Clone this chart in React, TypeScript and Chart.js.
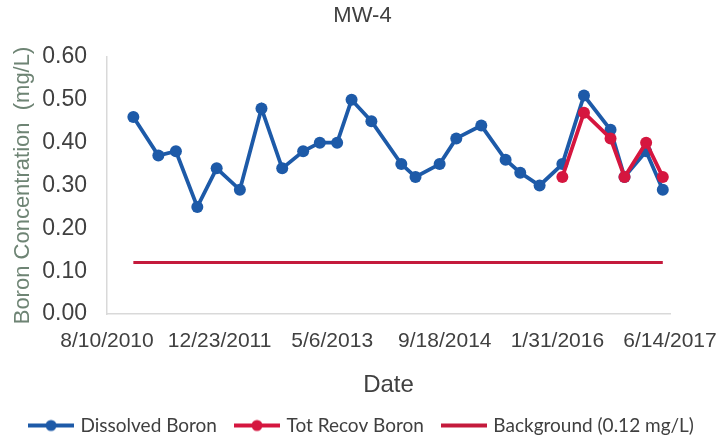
import { useEffect, useRef } from "react";
import { Chart, registerables } from "chart.js";

Chart.register(...registerables);

// ---- data ----
const axisStartDate = "2010-08-10";
const xTickLabels = ["8/10/2010", "12/23/2011", "5/6/2013", "9/18/2014", "1/31/2016", "6/14/2017"];
const xTickStepDays = 500;
const yTickValues = [0, 0.1, 0.2, 0.3, 0.4, 0.5, 0.6];

const dissolvedDates = [
  "2010-12-05", "2011-03-26", "2011-06-12", "2011-09-15", "2011-12-10", "2012-03-22",
  "2012-06-26", "2012-09-26", "2012-12-28", "2013-03-12", "2013-05-28", "2013-07-31",
  "2013-10-27", "2014-03-09", "2014-05-11", "2014-08-26", "2014-11-08", "2015-02-27",
  "2015-06-15", "2015-08-19", "2015-11-13", "2016-02-22", "2016-05-28", "2016-09-23",
  "2016-11-24", "2017-02-28", "2017-05-13",
];
const dissolvedValues = [
  0.46, 0.37, 0.38, 0.25, 0.34, 0.29,
  0.48, 0.34, 0.38, 0.40, 0.40, 0.50,
  0.45, 0.35, 0.32, 0.35, 0.41, 0.44,
  0.36, 0.33, 0.30, 0.35, 0.51, 0.43,
  0.32, 0.38, 0.29,
];

const totRecovDates = ["2016-02-22", "2016-05-28", "2016-09-23", "2016-11-24", "2017-02-28", "2017-05-13"];
const totRecovValues = [0.32, 0.47, 0.41, 0.32, 0.40, 0.32];

const backgroundDates = ["2010-12-05", "2017-05-13"];
const backgroundValues = [0.12, 0.12];

const seriesNames = ["Dissolved Boron", "Tot Recov Boron", "Background (0.12 mg/L)"];

// ---- helpers ----
const DAY = 86400000;
const toDays = (s: string) =>
  (Date.parse(s + "T00:00:00Z") - Date.parse(axisStartDate + "T00:00:00Z")) / DAY;
const toPoints = (dates: string[], values: number[]) =>
  dates.map((d, i) => ({ x: toDays(d), y: values[i] }));

const BLUE = "#1D5AA8";
const RED = "#D5163F";
const BG_RED = "#C41A3C";
const TEXT = "#404040";

const REGULAR = "'Liberation Sans', Arial, sans-serif";
const LEGEND_FONT = "Lato, 'Open Sans', sans-serif";

function legendIcon(color: string, withDot: boolean): HTMLCanvasElement {
  const c = document.createElement("canvas");
  c.width = 46;
  c.height = 16;
  const ctx = c.getContext("2d")!;
  ctx.strokeStyle = color;
  ctx.lineWidth = 4;
  ctx.beginPath();
  ctx.moveTo(0, 8);
  ctx.lineTo(46, 8);
  ctx.stroke();
  if (withDot) {
    ctx.fillStyle = color;
    ctx.beginPath();
    ctx.arc(23, 8, 5.5, 0, Math.PI * 2);
    ctx.fill();
  }
  return c;
}

export default function App() {
  const ref = useRef<HTMLCanvasElement | null>(null);

  useEffect(() => {
    if (!ref.current) return;
    const icons = [legendIcon(BLUE, true), legendIcon(RED, true), legendIcon(BG_RED, false)];
    const xMax = xTickStepDays * (xTickLabels.length - 1);

    const chart = new Chart(ref.current, {
      type: "line",
      data: {
        datasets: [
          {
            label: seriesNames[0],
            data: toPoints(dissolvedDates, dissolvedValues),
            borderColor: BLUE,
            backgroundColor: BLUE,
            borderWidth: 3.8,
            pointRadius: 6,
            pointBorderWidth: 0,
            pointBackgroundColor: BLUE,
            tension: 0,
            order: 3,
          },
          {
            label: seriesNames[1],
            data: toPoints(totRecovDates, totRecovValues),
            borderColor: RED,
            backgroundColor: RED,
            borderWidth: 3.8,
            pointRadius: 6,
            pointBorderWidth: 0,
            pointBackgroundColor: RED,
            tension: 0,
            order: 2,
          },
          {
            label: seriesNames[2],
            data: toPoints(backgroundDates, backgroundValues),
            borderColor: BG_RED,
            backgroundColor: BG_RED,
            borderWidth: 3,
            pointRadius: 0,
            tension: 0,
            order: 1,
          },
        ],
      },
      options: {
        responsive: false,
        animation: false,
        devicePixelRatio: 1,
        layout: { padding: 0 },
        plugins: {
          title: {
            display: true,
            text: "MW-4",
            color: TEXT,
            font: { family: REGULAR, size: 22, weight: "normal", lineHeight: 1.2 },
            padding: { top: 3, bottom: 27.6 },
          },
          legend: {
            display: true,
            position: "bottom",
            labels: {
              usePointStyle: true,
              pointStyleWidth: 40,
              padding: 20,
              color: TEXT,
              font: { family: LEGEND_FONT, size: 19 },
              generateLabels: () =>
                seriesNames.map((name, i) => ({
                  text: name,
                  pointStyle: icons[i] as any,
                  datasetIndex: i,
                  hidden: false,
                  fillStyle: "transparent",
                  strokeStyle: "transparent",
                  lineWidth: 0,
                  fontColor: TEXT,
                })),
            },
          },
          tooltip: { enabled: false },
        },
        scales: {
          x: {
            type: "linear",
            min: 0,
            max: xMax,
            afterFit: (scale: any) => {
              scale.height = 82;
              scale.paddingRight = 55;
              scale.paddingLeft = 0;
            },
            afterBuildTicks: (scale: any) => {
              scale.ticks = xTickLabels.map((_, i) => ({ value: i * xTickStepDays }));
            },
            ticks: {
              color: TEXT,
              font: { family: REGULAR, size: 21 },
              padding: 15,
              maxRotation: 0,
              autoSkip: false,
              callback: (v: any) => xTickLabels[Math.round(Number(v) / xTickStepDays)] ?? "",
            },
            grid: { display: false, drawTicks: false },
            border: { display: true, color: "#D9D9D9", width: 1.5 },
            title: {
              display: true,
              text: "Date",
              color: TEXT,
              font: { family: REGULAR, size: 24, lineHeight: 1 },
              padding: { top: 0, bottom: -1 },
            },
          },
          y: {
            type: "linear",
            min: 0,
            max: 0.6,
            afterFit: (scale: any) => {
              scale.width = 107;
            },
            afterBuildTicks: (scale: any) => {
              scale.ticks = yTickValues.map((v) => ({ value: v }));
            },
            ticks: {
              color: TEXT,
              font: { family: REGULAR, size: 23 },
              padding: 20,
              callback: (v: any) => Number(v).toFixed(2),
            },
            grid: { display: false, drawTicks: false },
            border: { display: true, color: "#D9D9D9", width: 1.5 },
            title: {
              display: true,
              text: "Boron Concentration  (mg/L)",
              color: "#6E8474",
              font: { family: REGULAR, size: 22, lineHeight: 1.2 },
              padding: { top: 10, bottom: 0 },
            },
          },
        },
      },
    });
    return () => chart.destroy();
  }, []);

  return (
    <div style={{ position: "absolute", left: 0, top: 0, width: 725, height: 445, background: "#fff" }}>
      <canvas ref={ref} width={725} height={445} style={{ display: "block" }} />
    </div>
  );
}
